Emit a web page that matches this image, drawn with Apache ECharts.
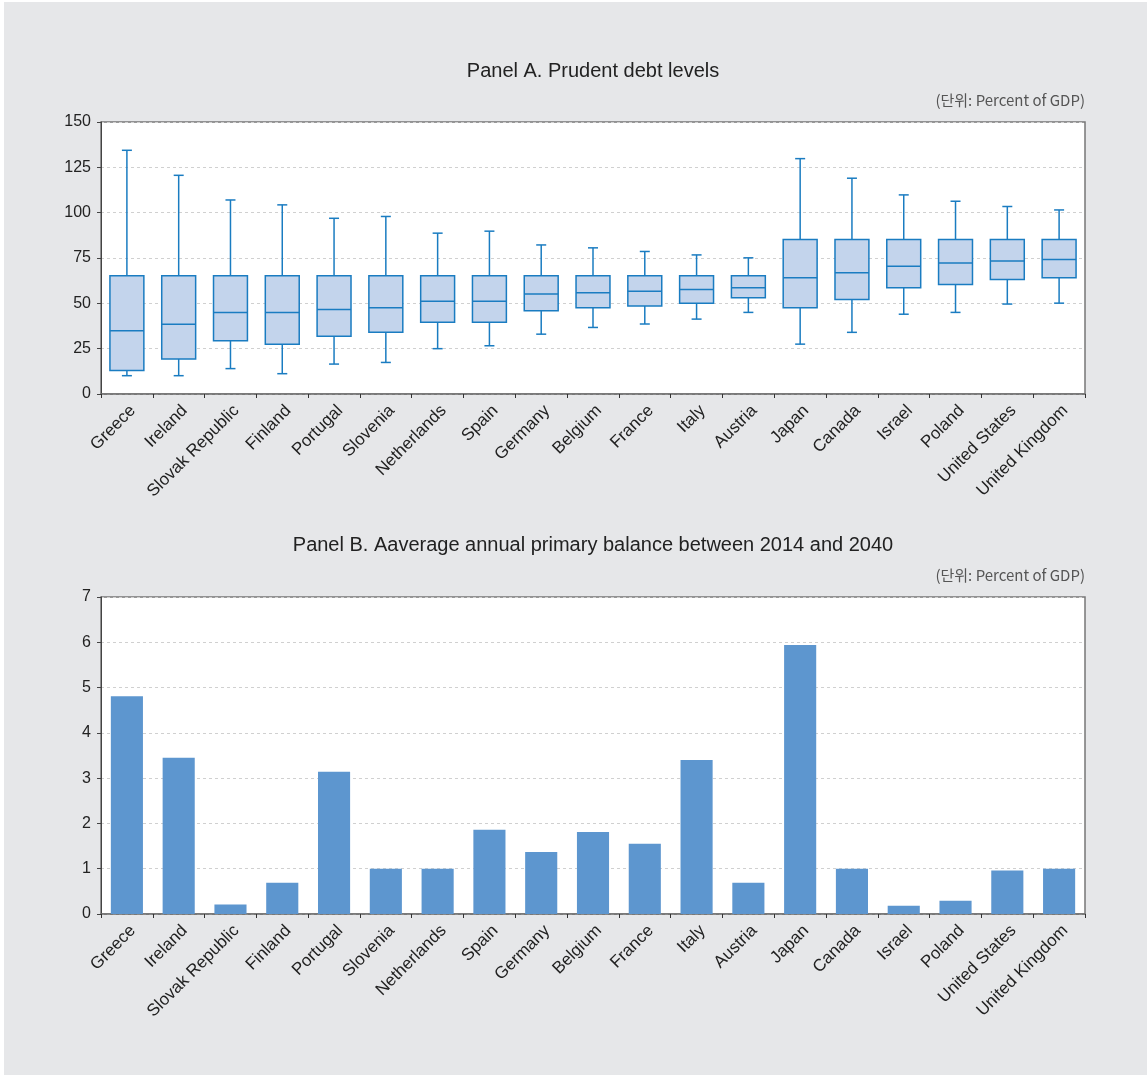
<!DOCTYPE html>
<html>
<head>
<meta charset="utf-8">
<script src="https://cdn.jsdelivr.net/npm/echarts@6/dist/echarts.min.js"></script>
<style>
  html, body { margin: 0; padding: 0; background: #ffffff; }
  #wrap { position: absolute; left: 4px; top: 2px; width: 1143px; height: 1073px; background: #e6e7e9; }
  #chart { position: absolute; left: -4px; top: -2px; width: 1147px; height: 1075px; }
</style>
</head>
<body>
<div id="wrap"><div id="chart"></div></div>
<script>
// Countries shown in both panels
const countries = ['Greece', 'Ireland', 'Slovak Republic', 'Finland', 'Portugal', 'Slovenia',
  'Netherlands', 'Spain', 'Germany', 'Belgium', 'France', 'Italy', 'Austria', 'Japan',
  'Canada', 'Israel', 'Poland', 'United States', 'United Kingdom'];

// Panel A: prudent debt level distribution (percent of GDP)
const debtMin = [10.1, 10.1, 14.0, 11.2, 16.5, 17.4, 25.0, 26.6, 33.0, 36.7, 38.6, 41.3, 45.0, 27.5, 34.0, 44.0, 45.0, 49.6, 50.1];
const debtQ1 = [13.0, 19.3, 29.4, 27.5, 31.9, 34.0, 39.5, 39.5, 45.9, 47.5, 48.5, 50.1, 53.1, 47.5, 52.1, 58.6, 60.4, 63.2, 64.1];
const debtMedian = [34.9, 38.4, 45.0, 45.0, 46.6, 47.5, 51.2, 51.2, 55.1, 55.8, 56.7, 57.6, 58.6, 64.1, 66.8, 70.5, 72.3, 73.3, 74.2];
const debtQ3 = [65.2, 65.2, 65.2, 65.2, 65.2, 65.2, 65.2, 65.2, 65.2, 65.2, 65.2, 65.2, 65.2, 85.2, 85.2, 85.2, 85.2, 85.2, 85.2];
const debtMax = [134.4, 120.6, 107.0, 104.3, 96.9, 97.9, 88.7, 89.8, 82.2, 80.6, 78.6, 76.7, 75.1, 129.8, 119.0, 109.8, 106.3, 103.4, 101.5];

// Panel B: average annual primary balance 2014-2040 (percent of GDP)
const primaryBalance = [4.81, 3.45, 0.21, 0.69, 3.14, 1.0, 1.0, 1.86, 1.37, 1.81, 1.55, 3.40, 0.69, 5.94, 1.0, 0.18, 0.29, 0.96, 1.0];

// Tick settings
const debtTicks = { min: 0, max: 150, interval: 25 };
const balanceTicks = { min: 0, max: 7, interval: 1 };

const titleA = 'Panel A. Prudent debt levels';
const titleB = 'Panel B. Aaverage annual primary balance between 2014 and 2040';
const unitText = '(단위: Percent of GDP)';

const boxData = countries.map((c, i) => [i, debtMin[i], debtQ1[i], debtMedian[i], debtQ3[i], debtMax[i]]);

const FONT = '"Liberation Sans", Arial, sans-serif';
const LINE = '#1a7cc1';
const FILL = '#c3d4ec';

function renderBox(params, api) {
  const x = api.value(0);
  const pMin = api.coord([x, api.value(1)]);
  const pQ1 = api.coord([x, api.value(2)]);
  const pMed = api.coord([x, api.value(3)]);
  const pQ3 = api.coord([x, api.value(4)]);
  const pMax = api.coord([x, api.value(5)]);
  const bw = api.size([1, 0])[0] * 0.655;
  const half = bw / 2;
  const cap = 5;
  const cx = pMed[0];
  const lineStyle = { stroke: LINE, lineWidth: 1.5 };
  return {
    type: 'group',
    children: [
      { type: 'line', shape: { x1: cx, y1: pQ3[1], x2: cx, y2: pMax[1] }, style: lineStyle },
      { type: 'line', shape: { x1: cx, y1: pQ1[1], x2: cx, y2: pMin[1] }, style: lineStyle },
      { type: 'line', shape: { x1: cx - cap, y1: pMax[1], x2: cx + cap, y2: pMax[1] }, style: lineStyle },
      { type: 'line', shape: { x1: cx - cap, y1: pMin[1], x2: cx + cap, y2: pMin[1] }, style: lineStyle },
      { type: 'rect', shape: { x: cx - half, y: pQ3[1], width: bw, height: pQ1[1] - pQ3[1] },
        style: { fill: FILL, stroke: LINE, lineWidth: 1.5 } },
      { type: 'line', shape: { x1: cx - half, y1: pMed[1], x2: cx + half, y2: pMed[1] }, style: lineStyle }
    ]
  };
}

function catAxis(gridIndex) {
  return {
    type: 'category',
    gridIndex: gridIndex,
    data: countries,
    boundaryGap: true,
    axisLine: { show: true, lineStyle: { color: '#707070', width: 1.5 } },
    axisTick: { show: true, alignWithLabel: false, length: 4, lineStyle: { color: '#333' } },
    axisLabel: { rotate: 45, interval: 0, color: '#222', fontSize: 17, fontFamily: FONT, margin: 8, verticalAlign: 'top' },
    splitLine: { show: false }
  };
}

function valAxis(gridIndex, t) {
  return {
    type: 'value',
    gridIndex: gridIndex,
    min: t.min, max: t.max, interval: t.interval,
    axisLine: { show: true, lineStyle: { color: '#444', width: 1 } },
    axisTick: { show: true, length: 4, lineStyle: { color: '#444' } },
    axisLabel: { color: '#222', fontSize: 16, fontFamily: FONT, margin: 10 },
    splitLine: { show: true, lineStyle: { color: '#d0d0d0', type: [3, 3], width: 1 } }
  };
}

const chart = echarts.init(document.getElementById('chart'), null, { renderer: 'canvas' });
chart.setOption({
  backgroundColor: 'transparent',
  animation: false,
  grid: [
    { left: 101, top: 122, width: 984, height: 272, show: true, backgroundColor: '#ffffff', borderColor: '#777', borderWidth: 1.5 },
    { left: 101, top: 597, width: 984, height: 317, show: true, backgroundColor: '#ffffff', borderColor: '#777', borderWidth: 1.5 }
  ],
  xAxis: [catAxis(0), catAxis(1)],
  yAxis: [valAxis(0, debtTicks), valAxis(1, balanceTicks)],
  graphic: [
    { type: 'text', x: 593, y: 71, style: { text: titleA, fontSize: 20, fontFamily: FONT, fill: '#222', align: 'center', verticalAlign: 'middle' } },
    { type: 'text', x: 1085, y: 100, style: { text: unitText, fontSize: 15, fontFamily: '"Noto Sans CJK KR", sans-serif', fill: '#555', align: 'right', verticalAlign: 'middle' } },
    { type: 'text', x: 593, y: 545, style: { text: titleB, fontSize: 20, fontFamily: FONT, fill: '#222', align: 'center', verticalAlign: 'middle' } },
    { type: 'text', x: 1085, y: 575, style: { text: unitText, fontSize: 15, fontFamily: '"Noto Sans CJK KR", sans-serif', fill: '#555', align: 'right', verticalAlign: 'middle' } }
  ],
  series: [
    {
      type: 'custom',
      xAxisIndex: 0, yAxisIndex: 0,
      data: boxData,
      encode: { x: 0, y: [1, 2, 3, 4, 5] },
      renderItem: renderBox,
      z: 3
    },
    {
      type: 'bar',
      xAxisIndex: 1, yAxisIndex: 1,
      data: primaryBalance,
      barWidth: '62%',
      itemStyle: { color: '#5d96cf' },
      z: 3
    }
  ]
});
</script>
</body>
</html>
